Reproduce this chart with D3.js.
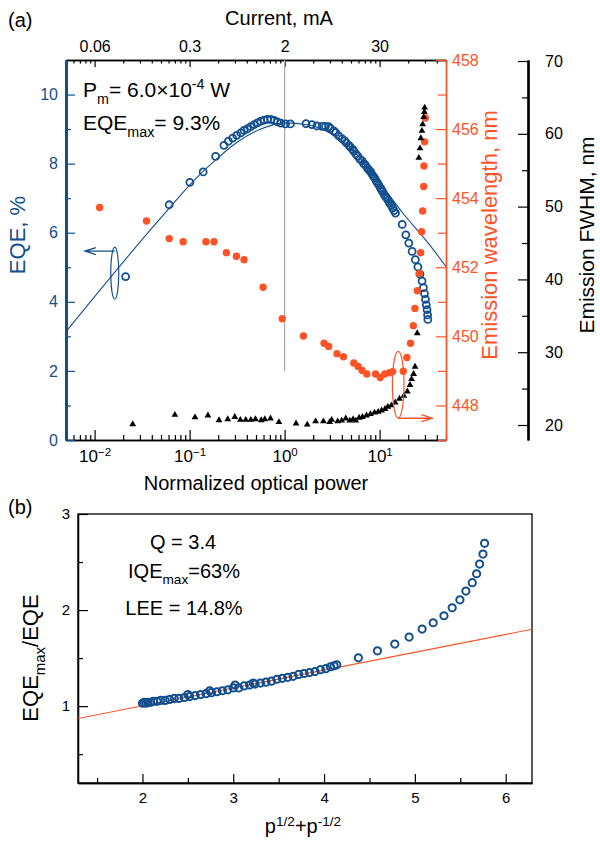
<!DOCTYPE html>
<html>
<head>
<meta charset="utf-8">
<script src="https://cdn.jsdelivr.net/npm/d3@7"></script>
<style>
body { margin: 0; background: #fff; }
svg { font-family: "Liberation Sans", Arial, sans-serif; }
</style>
</head>
<body>
<svg id="chart" width="600" height="841"></svg>
<script>
// ---- panel (a) data: normalized optical power p ----
// EQE (%) open circles
var eqeP = [0.0212, 0.061, 0.1007, 0.139, 0.188, 0.230, 0.256, 0.284, 0.313, 0.346, 0.374, 0.406, 0.441, 0.478, 0.518, 0.562, 0.610, 0.660, 0.716, 0.776, 0.841, 0.914, 1.02, 1.15,
    1.68, 1.94, 2.19, 2.48, 2.69, 2.91, 3.03, 3.29, 3.45, 3.72, 4.03, 4.30, 4.47, 4.75, 4.93, 5.20, 5.35, 5.62, 5.89, 6.20, 6.55, 6.80, 7.10, 7.40, 7.70, 8.02, 8.30, 8.60, 8.90, 9.20, 9.50, 9.82,
    10.2, 10.5, 10.8, 11.2, 11.6, 12.0, 12.4, 12.8, 13.3, 13.7, 14.2, 14.7, 17.3, 18.9, 20.3, 22.0, 23.8, 25.3, 26.6, 28.0, 28.9, 29.7, 30.4, 31.0, 31.6, 32.0, 32.2];
var eqeVal = [4.73, 6.81, 7.46, 7.76, 8.21, 8.53, 8.65, 8.74, 8.82, 8.89, 8.96, 9.01, 9.07, 9.13, 9.18, 9.23, 9.26, 9.28, 9.28, 9.25, 9.21, 9.17, 9.15, 9.15,
    9.16, 9.13, 9.09, 9.08, 9.08, 9.07, 9.02, 8.95, 8.90, 8.80, 8.72, 8.66, 8.60, 8.53, 8.48, 8.41, 8.36, 8.28, 8.22, 8.13, 8.08, 8.00, 7.96, 7.88, 7.82, 7.77, 7.70, 7.63, 7.58, 7.50, 7.44, 7.38,
    7.30, 7.24, 7.18, 7.10, 7.04, 6.99, 6.92, 6.85, 6.79, 6.71, 6.64, 6.57, 6.24, 5.94, 5.70, 5.46, 5.22, 5.01, 4.80, 4.60, 4.41, 4.24, 4.07, 3.91, 3.77, 3.62, 3.49];
// model fit line through EQE
var fitP = [0.005, 0.01, 0.0316, 0.063, 0.1, 0.178, 0.316, 0.562, 1, 1.78, 3.16, 5.62, 10, 17.8, 31.6, 50];
var fitEqe = [3.14, 4.15, 5.80, 6.75, 7.38, 8.05, 8.62, 9.00, 9.18, 9.12, 8.85, 8.30, 7.45, 6.55, 5.74, 5.02];
// emission wavelength (nm) filled dots
var lamP = [0.0113, 0.0352, 0.061, 0.0856, 0.1485, 0.1806, 0.244, 0.311, 0.374, 0.594, 0.944, 1.58, 2.60, 2.91, 3.56, 4.16, 5.35, 5.94, 6.55, 7.33, 9.06, 10.15, 11.35, 12.73, 13.69,
    17.76, 19.37, 21.18, 22.63, 23.54, 24.96, 26.18, 27.04, 27.7, 28.4, 29.1, 29.3, 29.8, 30.3];
var lamVal = [453.73, 453.34, 452.83, 452.74, 452.74, 452.74, 452.42, 452.32, 452.22, 451.42, 450.51, 450.01, 449.80, 449.71, 449.50, 449.41, 449.23, 449.13, 449.01, 448.91, 448.91, 448.81, 448.91, 448.95, 448.98,
    448.99, 449.39, 449.80, 450.31, 450.81, 451.32, 451.82, 452.42, 453.03, 453.63, 454.34, 454.93, 455.63, 456.32];
// emission FWHM (nm) triangles
var fwP = [0.0252, 0.070, 0.114, 0.156, 0.204, 0.252, 0.299, 0.342, 0.390, 0.441, 0.493, 0.567, 0.619, 0.710, 0.871, 1.32, 1.73, 2.12, 2.56, 2.98, 3.13, 3.62, 3.99, 4.40, 4.85, 5.26, 5.61,
    6.09, 6.60, 7.28, 8.02, 8.84, 9.66, 10.5, 11.4, 12.2, 13.3, 14.6, 16.2, 18.0, 19.6, 20.9, 21.7, 22.8, 23.6, 24.9, 25.9, 26.6, 27.2, 27.9, 28.4, 29.1, 29.6, 29.8];
var fwVal = [20.1, 21.4, 21.05, 21.3, 20.65, 20.8, 21.1, 20.7, 20.7, 20.7, 20.8, 20.65, 20.8, 20.9, 20.4, 20.2, 20.05, 20.5, 20.5, 20.4, 20.7, 20.5, 20.6, 20.9, 20.6, 20.8, 20.6,
    21.0, 21.1, 21.3, 21.5, 21.7, 21.8, 22.0, 22.2, 22.5, 22.7, 23.1, 23.6, 24.0, 24.6, 25.5, 26.3, 27.0, 28.0, 32.6, 56.7, 58.0, 59.4, 60.4, 61.3, 62.3, 63.0, 63.6];
// ticks
var powerTicks = [0.01, 0.1, 1, 10];
var powerExp = ["\u22122", "\u22121", "0", "1"];
var currentLabels = ["0.06", "0.3", "2", "30"];
var eqeTicks = [0, 2, 4, 6, 8, 10];
var lamTicks = [448, 450, 452, 454, 456, 458];
var fwTicks = [20, 30, 40, 50, 60, 70];

// ---- panel (b) data ----
var bX = [2.00, 2.02, 2.04, 2.06, 2.09, 2.12, 2.16, 2.20, 2.25, 2.30, 2.35, 2.40, 2.46, 2.50, 2.52, 2.58, 2.64, 2.70, 2.74, 2.76, 2.82, 2.88, 2.94, 3.00, 3.02, 3.06, 3.12, 3.18, 3.22, 3.24,
    3.30, 3.36, 3.42, 3.48, 3.54, 3.60, 3.66, 3.72, 3.78, 3.84, 3.90, 3.96, 4.02, 4.07, 4.11, 4.14,
    4.378, 4.588, 4.779, 4.937, 5.080, 5.202, 5.320, 5.411, 5.496, 5.562, 5.632, 5.680, 5.713, 5.750, 5.768];
var bY = [1.03, 1.04, 1.03, 1.04, 1.04, 1.05, 1.05, 1.06, 1.06, 1.07, 1.08, 1.08, 1.09, 1.12, 1.10, 1.11, 1.12, 1.13, 1.16, 1.14, 1.15, 1.16, 1.17, 1.19, 1.22, 1.19, 1.21, 1.22, 1.24, 1.23,
    1.24, 1.25, 1.26, 1.28, 1.29, 1.30, 1.31, 1.33, 1.34, 1.35, 1.36, 1.38, 1.39, 1.41, 1.42, 1.43,
    1.503, 1.576, 1.646, 1.719, 1.802, 1.868, 1.941, 2.024, 2.107, 2.198, 2.285, 2.378, 2.479, 2.583, 2.695];
var bFitX = [1.29, 6.29];
var bFitY = [0.872, 1.80];
var bXTicks = [2, 3, 4, 5, 6];
var bYTicks = [1, 2, 3];

var blue = "#134f8e";
var orange = "#ff5326";
var svg = d3.select("#chart");

// text with sub/superscripts
function richText(sel, parts, size) {
    var shift = 0;
    parts.forEach(function(p) {
        var t = sel.append("tspan").text(p[0]);
        var target = p[1] === "sup" ? -0.36 * size : (p[1] === "sub" ? 0.32 * size : 0);
        if (p[1]) t.attr("font-size", size * 0.68);
        if (target !== shift) { t.attr("dy", target - shift); shift = target; }
    });
}

function isDecade(v) {
    var l = Math.log10(v);
    return Math.abs(l - Math.round(l)) < 1e-6;
}

function styleAxis(g, color, width, size) {
    g.select(".domain").attr("stroke", color).attr("stroke-width", width);
    g.selectAll(".tick line").attr("stroke", color).attr("stroke-width", 1.2);
    g.selectAll(".tick text").attr("fill", color).attr("font-size", size);
    g.attr("font-family", null);
}

var plain = function(d) { return String(d); };

// ================= panel (a) =================
var a = {left: 66, right: 446, top: 60, bottom: 440};
var x = d3.scaleLog().domain([0.005, 50]).range([a.left, a.right]);
var yEqe = d3.scaleLinear().domain([0, 11]).range([a.bottom, a.top]);
var yLam = d3.scaleLinear().domain([447, 458]).range([a.bottom, a.top]);
var yFw = d3.scaleLinear().domain([17.94, 70.14]).range([a.bottom, a.top]);
var minorP = x.ticks().filter(function(v) { return !isDecade(v); });

svg.append("clipPath").attr("id", "clipA").append("rect")
    .attr("x", a.left).attr("y", a.top).attr("width", a.right - a.left).attr("height", a.bottom - a.top);

// bottom axis
var gBot = svg.append("g").attr("transform", "translate(0," + a.bottom + ")");
gBot.call(d3.axisBottom(x).tickValues(minorP).tickSize(-5).tickSizeOuter(0).tickFormat(""));
styleAxis(gBot, "#000", 1.3, 17);
var gBotM = svg.append("g").attr("transform", "translate(0," + a.bottom + ")");
gBotM.call(d3.axisBottom(x).tickValues(powerTicks).tickSize(-10).tickSizeOuter(0).tickPadding(10).tickFormat(""));
styleAxis(gBotM, "#000", 1.3, 17);
gBotM.selectAll(".tick text").each(function(d, i) {
    richText(d3.select(this), [["10", null], [powerExp[i], "sup"]], 17);
});

// top axis (current)
var gTop = svg.append("g").attr("transform", "translate(0," + a.top + ")");
gTop.call(d3.axisTop(x).tickValues(minorP).tickSize(-3.5).tickSizeOuter(0).tickFormat(""));
styleAxis(gTop, "#000", 1.3, 16);
var gTopM = svg.append("g").attr("transform", "translate(0," + a.top + ")");
gTopM.call(d3.axisTop(x).tickValues(powerTicks).tickSize(-7).tickSizeOuter(0).tickPadding(8)
    .tickFormat(function(d, i) { return currentLabels[i]; }));
styleAxis(gTopM, "#000", 1.3, 16);

// right wavelength axis
var gLam = svg.append("g").attr("transform", "translate(" + a.right + ",0)");
gLam.call(d3.axisRight(yLam).tickValues([447, 449, 451, 453, 455, 457]).tickSize(-8).tickSizeOuter(0).tickFormat(""));
styleAxis(gLam, orange, 1.4, 16);
var gLamM = svg.append("g").attr("transform", "translate(" + a.right + ",0)");
gLamM.call(d3.axisRight(yLam).tickValues(lamTicks).tickSize(-10).tickSizeOuter(0).tickPadding(6).tickFormat(plain));
styleAxis(gLamM, orange, 1.4, 16);

// FWHM axis
var fwX = 528;
var gFw = svg.append("g").attr("transform", "translate(" + fwX + ",0)");
gFw.call(d3.axisRight(yFw).tickValues([25, 35, 45, 55, 65]).tickSize(-6).tickSizeOuter(0).tickFormat(""));
styleAxis(gFw, "#000", 2.2, 16);
var gFwM = svg.append("g").attr("transform", "translate(" + fwX + ",0)");
gFwM.call(d3.axisRight(yFw).tickValues(fwTicks).tickSize(-10).tickSizeOuter(0).tickPadding(17).tickFormat(plain));
styleAxis(gFwM, "#000", 2.2, 16);

// left EQE axis
var gEqe = svg.append("g").attr("transform", "translate(" + a.left + ",0)");
gEqe.call(d3.axisLeft(yEqe).tickValues([1, 3, 5, 7, 9]).tickSize(-5).tickSizeOuter(0).tickFormat(""));
styleAxis(gEqe, blue, 3, 16);
var gEqeM = svg.append("g").attr("transform", "translate(" + a.left + ",0)");
gEqeM.call(d3.axisLeft(yEqe).tickValues(eqeTicks).tickSize(-9).tickSizeOuter(0).tickPadding(8).tickFormat(plain));
styleAxis(gEqeM, blue, 3, 16);

// vertical line at p = 1
svg.append("line")
    .attr("x1", x(1)).attr("x2", x(1)).attr("y1", a.top).attr("y2", yEqe(2))
    .attr("stroke", "#a8a8a8").attr("stroke-width", 1.2);

// fit line
var fitLine = d3.line()
    .x(function(d) { return x(fitP[d]); })
    .y(function(d) { return yEqe(fitEqe[d]); })
    .curve(d3.curveMonotoneX);
svg.append("path")
    .attr("d", fitLine(d3.range(fitP.length)))
    .attr("clip-path", "url(#clipA)")
    .attr("fill", "none").attr("stroke", blue).attr("stroke-width", 1.1);

// EQE circles
svg.append("g").selectAll("circle")
    .data(eqeP)
    .enter().append("circle")
    .attr("cx", function(d) { return x(d); })
    .attr("cy", function(d, i) { return yEqe(eqeVal[i]); })
    .attr("r", 3.5)
    .attr("fill", "none").attr("stroke", blue).attr("stroke-width", 1.8);

// wavelength dots
svg.append("g").selectAll("circle")
    .data(lamP)
    .enter().append("circle")
    .attr("cx", function(d) { return x(d); })
    .attr("cy", function(d, i) { return yLam(lamVal[i]); })
    .attr("r", 3.7)
    .attr("fill", orange);

// FWHM triangles
var tri = d3.symbol().type(d3.symbolTriangle).size(20);
svg.append("g").selectAll("path")
    .data(fwP)
    .enter().append("path")
    .attr("d", tri)
    .attr("transform", function(d, i) { return "translate(" + x(d) + "," + yFw(fwVal[i]) + ")"; })
    .attr("fill", "#000");

// annotation: EQE ellipse + arrow to the left axis
var ex = x(0.0163), ey = yEqe(4.83), ay = yEqe(5.47), ax0 = x(0.0079);
svg.append("ellipse").attr("cx", ex).attr("cy", ey).attr("rx", 4).attr("ry", 26)
    .attr("fill", "none").attr("stroke", blue).attr("stroke-width", 1.2);
svg.append("path")
    .attr("d", "M" + ex + "," + ay + "L" + ax0 + "," + ay + "M" + (ax0 + 11) + "," + (ay - 3.5) + "L" + ax0 + "," + ay + "L" + (ax0 + 11) + "," + (ay + 3.5))
    .attr("fill", "none").attr("stroke", blue).attr("stroke-width", 1.3);

// annotation: wavelength ellipse + arrow to the right axis
var ox = x(15.7), oy = yLam(448.6), oay = yLam(447.63), ox1 = x(35.9);
svg.append("ellipse").attr("cx", ox).attr("cy", oy).attr("rx", 5.8).attr("ry", 33.3)
    .attr("fill", "none").attr("stroke", orange).attr("stroke-width", 1.2);
svg.append("path")
    .attr("d", "M" + ox + "," + oay + "L" + ox1 + "," + oay + "M" + (ox1 - 11) + "," + (oay - 3.5) + "L" + ox1 + "," + oay + "L" + (ox1 - 11) + "," + (oay + 3.5))
    .attr("fill", "none").attr("stroke", orange).attr("stroke-width", 1.3);

// texts panel (a)
svg.append("text").attr("x", 8).attr("y", 27).attr("font-size", 20).text("(a)");
svg.append("text").attr("x", 279).attr("y", 25).attr("font-size", 20).attr("text-anchor", "middle").text("Current, mA");
svg.append("text").attr("x", (a.left + a.right) / 2).attr("y", 490).attr("font-size", 20).attr("text-anchor", "middle").text("Normalized optical power");
svg.append("text").attr("transform", "translate(25,235) rotate(-90)").attr("font-size", 22)
    .attr("text-anchor", "middle").attr("fill", blue).text("EQE, %");
svg.append("text").attr("transform", "translate(497,235) rotate(-90)").attr("font-size", 22)
    .attr("text-anchor", "middle").attr("fill", orange).text("Emission wavelength, nm");
svg.append("text").attr("transform", "translate(594,235) rotate(-90)").attr("font-size", 21)
    .attr("text-anchor", "middle").attr("fill", "#000").text("Emission FWHM, nm");

var tPm = svg.append("text").attr("x", 83).attr("y", 97).attr("font-size", 21);
richText(tPm, [["P", null], ["m", "sub"], ["= 6.0\u00d710", null], ["-4", "sup"], [" W", null]], 21);
var tEq = svg.append("text").attr("x", 83).attr("y", 130).attr("font-size", 21);
richText(tEq, [["EQE", null], ["max", "sub"], ["= 9.3%", null]], 21);

// ================= panel (b) =================
var b = {left: 78, right: 532, top: 514, bottom: 783};
var xb = d3.scaleLinear().domain([1.29, 6.29]).range([b.left, b.right]);
var yb = d3.scaleLinear().domain([0.2, 3]).range([b.bottom, b.top]);

svg.append("clipPath").attr("id", "clipB").append("rect")
    .attr("x", b.left).attr("y", b.top).attr("width", b.right - b.left).attr("height", b.bottom - b.top);

svg.append("rect")
    .attr("x", b.left).attr("y", b.top).attr("width", b.right - b.left).attr("height", b.bottom - b.top)
    .attr("fill", "none").attr("stroke", "#000").attr("stroke-width", 1.3);

var gbB = svg.append("g").attr("transform", "translate(0," + b.bottom + ")");
gbB.call(d3.axisBottom(xb).tickValues([1.5, 2.5, 3.5, 4.5, 5.5]).tickSize(-5).tickSizeOuter(0).tickFormat(""));
styleAxis(gbB, "#000", 1.3, 15);
var gbBM = svg.append("g").attr("transform", "translate(0," + b.bottom + ")");
gbBM.call(d3.axisBottom(xb).tickValues(bXTicks).tickSize(-9).tickSizeOuter(0).tickPadding(9).tickFormat(plain));
styleAxis(gbBM, "#000", 1.3, 15);

var gbL = svg.append("g").attr("transform", "translate(" + b.left + ",0)");
gbL.call(d3.axisLeft(yb).tickValues([0.5, 1.5, 2.5]).tickSize(-5).tickSizeOuter(0).tickFormat(""));
styleAxis(gbL, "#000", 1.3, 15);
var gbLM = svg.append("g").attr("transform", "translate(" + b.left + ",0)");
gbLM.call(d3.axisLeft(yb).tickValues(bYTicks).tickSize(-10).tickSizeOuter(0).tickPadding(8).tickFormat(plain));
styleAxis(gbLM, "#000", 1.3, 15);

// linear fit
var bLine = d3.line()
    .x(function(d) { return xb(bFitX[d]); })
    .y(function(d) { return yb(bFitY[d]); });
svg.append("path")
    .attr("d", bLine([0, 1]))
    .attr("clip-path", "url(#clipB)")
    .attr("fill", "none").attr("stroke", orange).attr("stroke-width", 1.1);

svg.append("g").selectAll("circle")
    .data(bX)
    .enter().append("circle")
    .attr("cx", function(d) { return xb(d); })
    .attr("cy", function(d, i) { return yb(bY[i]); })
    .attr("r", 3.6)
    .attr("fill", "none").attr("stroke", blue).attr("stroke-width", 2);

// texts panel (b)
svg.append("text").attr("x", 8).attr("y", 514).attr("font-size", 20).text("(b)");
svg.append("text").attr("x", 183).attr("y", 549).attr("font-size", 20).attr("text-anchor", "middle").text("Q = 3.4");
var tIqe = svg.append("text").attr("x", 184).attr("y", 578).attr("font-size", 20).attr("text-anchor", "middle");
richText(tIqe, [["IQE", null], ["max", "sub"], ["=63%", null]], 20);
svg.append("text").attr("x", 184).attr("y", 615).attr("font-size", 20).attr("text-anchor", "middle").text("LEE = 14.8%");

var tYb = svg.append("text").attr("transform", "translate(38,658) rotate(-90)").attr("font-size", 22).attr("text-anchor", "middle");
richText(tYb, [["EQE", null], ["max", "sub"], ["/EQE", null]], 22);
var tXb = svg.append("text").attr("x", 303).attr("y", 833).attr("font-size", 20).attr("text-anchor", "middle");
richText(tXb, [["p", null], ["1/2", "sup"], ["+p", null], ["-1/2", "sup"]], 20);
</script>
</body>
</html>
